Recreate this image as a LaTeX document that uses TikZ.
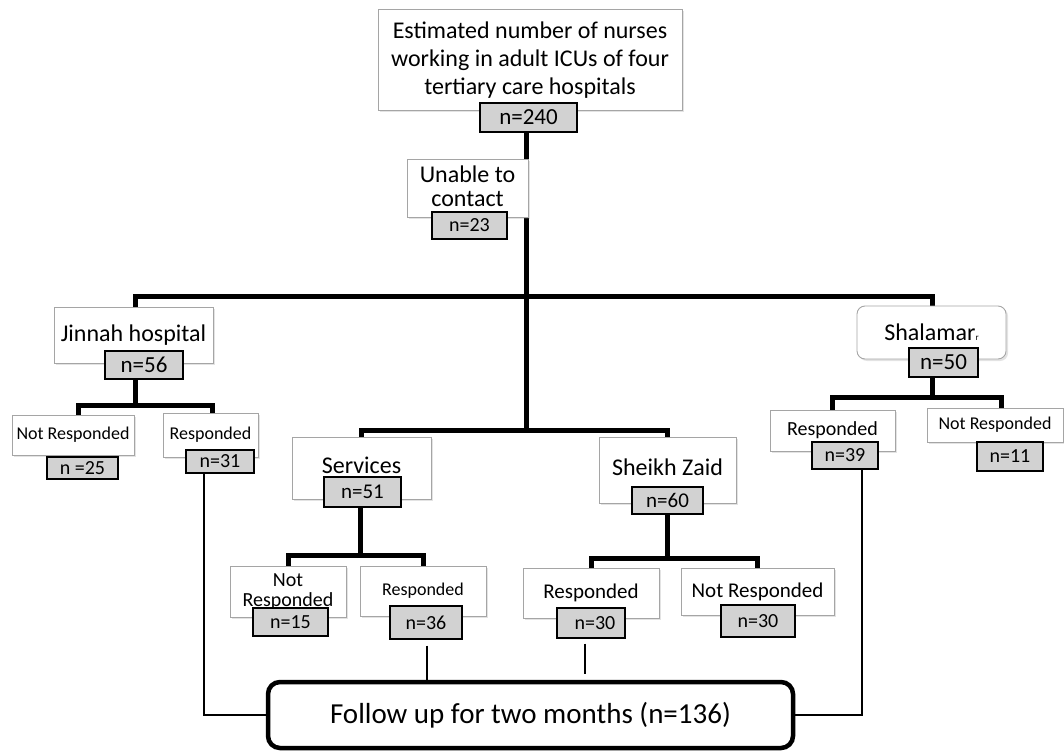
\documentclass[tikz,border=0pt]{standalone}
\usepackage{fontspec}
\setmainfont{Carlito}
\usetikzlibrary{shadows,backgrounds}
\definecolor{nfill}{RGB}{210,210,210}
\definecolor{wedge}{RGB}{165,165,165}
\begin{document}
\begin{tikzpicture}[x=1pt,y=-1pt,
  wbox/.style={draw=wedge, fill=white, line width=0.9pt, inner sep=0pt, align=center,
    drop shadow={shadow xshift=2pt,shadow yshift=-2pt,opacity=0.22}},
  nbox/.style={draw=black, fill=nfill, line width=1.2pt, inner sep=0pt},
  fbox/.style={draw=black, fill=white, line width=4.5pt, rounded corners=12pt, inner sep=0pt},
  trunk/.style={line width=5pt},
  feed/.style={line width=1.2pt},
  f29/.style={font={\fontsize{29}{33}\selectfont}},
  f24/.style={font={\fontsize{24}{26}\selectfont}},
  f23/.style={font={\fontsize{23}{27}\selectfont}},
  f21/.style={font={\fontsize{21}{22}\selectfont}},
  f20/.style={font={\fontsize{20}{20}\selectfont}},
  f18/.style={font={\fontsize{18}{21}\selectfont}}]
\useasboundingbox (0,0) rectangle (1064,751);

% top
\node[wbox,font={\fontsize{24}{28}\selectfont},text depth=2pt,minimum width=304pt,minimum height=101pt] (top) at (530,59.5)
  {Estimated number of nurses\\working in adult ICUs of four\\tertiary care hospitals};
\node[nbox,f23,minimum width=97pt,minimum height=29pt] (n240) at (528.5,117.5) {n=240};
\node[wbox,font={\fontsize{24}{24}\selectfont},text depth=4pt,minimum width=121pt,minimum height=58pt] (unable) at (467.5,188) {Unable to\\contact};
\node[nbox,f20,minimum width=75pt,minimum height=27pt] (n23) at (469.5,225.5) {n=23};

% Jinnah
\node[wbox,f24,minimum width=159pt,minimum height=56pt] (jin) at (133.5,335) {Jinnah hospital};
\node[nbox,f23,minimum width=78pt,minimum height=28pt] (n56) at (144,365) {n=56};
\node[wbox,f18,minimum width=122pt,minimum height=40pt] (nr1) at (73,435) {Not Responded};
\node[nbox,f20,minimum width=71pt,minimum height=22pt] (n25) at (82.5,468) {n =25};
\node[wbox,f18,minimum width=95pt,minimum height=44pt] (r1) at (210.5,435) {Responded};
\node[nbox,f20,minimum width=68pt,minimum height=23pt] (n31) at (220,461.5) {n=31};

% Shalamar
\node[wbox,f24,minimum width=149pt,minimum height=53pt,rounded corners=8pt] (shal) at (931.5,332.5)
  {Shalamar{\fontsize{9}{9}\selectfont r}};
\node[nbox,f23,minimum width=69pt,minimum height=29pt] (n50) at (943.5,362.5) {n=50};
\node[wbox,f20,minimum width=125pt,minimum height=41pt] (r3) at (832.5,430.5) {Responded};
\node[nbox,f20,minimum width=66pt,minimum height=27pt] (n39) at (845,455.5) {n=39};
\node[wbox,f18,minimum width=136pt,minimum height=34pt] (nr3) at (995,425) {Not Responded};
\node[nbox,f20,minimum width=66pt,minimum height=29pt] (n11) at (1010,456.5) {n=11};

% Services
\node[wbox,f24,text height=10pt,text depth=0pt,minimum width=139pt,minimum height=62pt] (serv) at (361.5,468) {Services};
\node[nbox,f21,minimum width=77pt,minimum height=30pt] (n51) at (362.5,492) {n=51};
\node[wbox,f20,minimum width=116pt,minimum height=51pt] (nr2) at (288,591.5) {Not\\Responded};
\node[nbox,f20,minimum width=75pt,minimum height=28pt] (n15) at (290.5,622) {n=15};
\node[wbox,f18,minimum width=126pt,minimum height=50pt] (r2) at (423,591) {Responded};
\node[nbox,f20,minimum width=72pt,minimum height=33pt] (n36) at (426,622.5) {n=36};

% Sheikh Zaid
\node[wbox,f24,text height=10pt,text depth=0pt,minimum width=137pt,minimum height=66pt] (sz) at (667.5,470) {Sheikh Zaid};
\node[nbox,f21,minimum width=71pt,minimum height=27pt] (n60) at (667.5,500.5) {n=60};
\node[wbox,f21,minimum width=136pt,minimum height=50pt] (r4) at (591,593) {Responded};
\node[nbox,f20,minimum width=68pt,minimum height=30pt] (n30a) at (591,623) {\hspace{8pt}n=30};
\node[wbox,f21,minimum width=153pt,minimum height=47pt] (nr4) at (757.5,591.5) {Not Responded};
\node[nbox,f20,minimum width=74pt,minimum height=32pt] (n30b) at (758,621) {n=30};

% follow up
\node[fbox,f29,minimum width=525pt,minimum height=66pt] (follow) at (530.5,715) {Follow up for two months (n=136)};

\coordinate (hubA) at (526,296);
\coordinate (hubB) at (526,430);
\coordinate (jtop) at (135,296);
\coordinate (stop) at (932,296);
\coordinate (jbar) at (135,405);
\coordinate (shbar) at (932,397);
\coordinate (sbar) at (360,555);
\coordinate (zbar) at (667,558);

\begin{pgfonlayer}{background}
\draw[trunk] (n240.south -| hubA) -- (hubA) -- (hubB);
\draw[trunk] (jin.north -| jtop) -- (jtop) -- (stop) -- (shal.north -| stop);
\draw[trunk] (serv.north) |- (hubB) -| (sz.north);
\draw[trunk] (n56.south -| jbar) -- (jbar);
\draw[trunk] ([xshift=5pt]nr1.north) |- (jbar) -| ([xshift=1.5pt]r1.north);
\draw[trunk] (n50.south -| shbar) -- (shbar);
\draw[trunk] (r3.north) |- (shbar) -| ([xshift=6pt]nr3.north);
\draw[trunk] (n51.south -| sbar) -- (sbar);
\draw[trunk] (nr2.north) |- (sbar) -| (r2.north);
\draw[trunk] (n60.south -| zbar) -- (zbar);
\draw[trunk] (r4.north) |- (zbar) -| (nr4.north);
\end{pgfonlayer}

\draw[feed] ([xshift=-16pt]n31.south) |- (follow.west);
\draw[feed] ([xshift=17pt]n39.south) |- (follow.east);
\draw[feed] ([xshift=1pt,yshift=-6pt]n36.south) -- ([xshift=1pt]n36.south |- follow.north);
\draw[feed] ([xshift=-6pt,yshift=-5pt]n30a.south) -- ([xshift=-6pt,yshift=6pt]n30a.south |- follow.north);
\end{tikzpicture}
\end{document}
